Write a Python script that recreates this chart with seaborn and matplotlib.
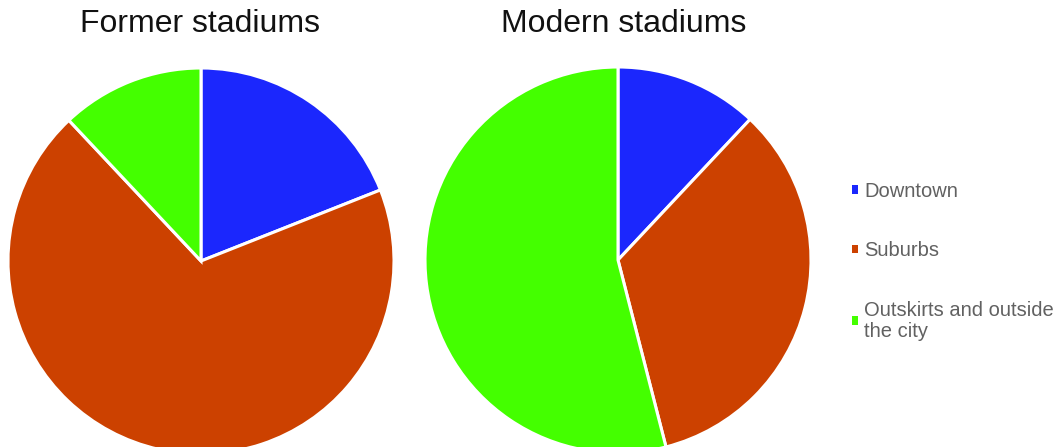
import matplotlib
matplotlib.use('Agg')
import matplotlib.pyplot as plt
import matplotlib.patches as mpatches
import seaborn as sns

# Data (shares in %)
categories = ['Downtown', 'Suburbs', 'Outskirts and outside\nthe city']
former = [19, 69, 12]
modern = [12, 34, 54]
titles = ['Former stadiums', 'Modern stadiums']

colors = ['#1b27fd', '#cc4100', '#44ff00']

sns.set_theme(style='white')
plt.rcParams['font.family'] = ['Liberation Sans', 'DejaVu Sans']

W, H = 1059, 447
fig = plt.figure(figsize=(W / 100, H / 100), dpi=100)

def px_axes(cx, cy, r):
    # axes square around a pie centre given in pixel coords (top-left origin)
    return fig.add_axes([(cx - r) / W, (H - cy - r) / H, 2 * r / W, 2 * r / H])

centres = [(201, 261), (618, 260)]
title_x = [200, 624]
for (cx, cy), tx, vals, title in zip(centres, title_x, [former, modern], titles):
    ax = px_axes(cx, cy, 193)
    ax.pie(vals, colors=colors, startangle=90, counterclock=False, radius=1,
           wedgeprops=dict(edgecolor='white', linewidth=2.2))
    ax.set_xlim(-1, 1)
    ax.set_ylim(-1, 1)
    ax.set_aspect('equal')
    ax.axis('off')
    fig.text(tx / W, 1 - 24 / H, title, ha='center', va='center',
             fontsize=23, color='#111111')

handles = [mpatches.Patch(facecolor=c, edgecolor='none') for c in colors]
leg = fig.legend(handles, categories, loc='upper left', bbox_to_anchor=(852 / W, 1 - 182 / H),
                 frameon=False, fontsize=14.5, handlelength=0.3, handleheight=0.3,
                 handletextpad=0.3, labelspacing=2.0, borderaxespad=0, borderpad=0)
for t in leg.get_texts():
    t.set_color('#616161')
    t.set_linespacing(1.15)

fig.savefig('out.png', dpi=100)
